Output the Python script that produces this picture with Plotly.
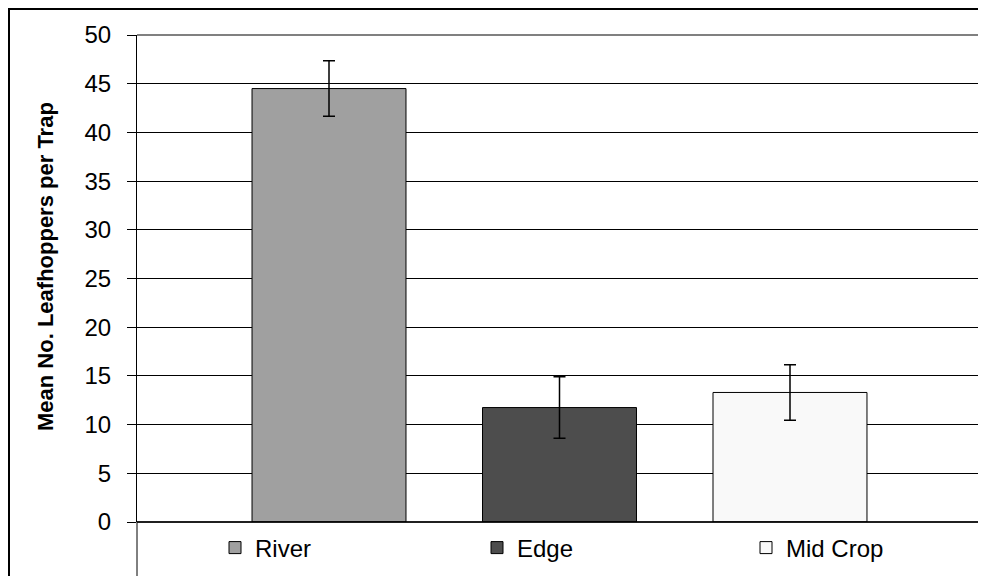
import plotly.graph_objects as go

categories = ["River", "Edge", "Mid Crop"]
means = [44.5, 11.75, 13.3]
errors = [2.85, 3.15, 2.85]
colors = ["#A0A0A0", "#4D4D4D", "#F9F9F9"]
y_ticks = list(range(0, 51, 5))

# page has an 8px body margin, so the figure is slightly smaller and offset
W, H = 978, 568
L, R, T, B = 129, 4, 27, 54
PW, PH = W - L - R, H - T - B
legend_x_px = [207, 469, 738]
legend_names = ["legend", "legend2", "legend3"]

fig = go.Figure()
for i, (name, m, e, c) in enumerate(zip(categories, means, errors, colors)):
    fig.add_trace(go.Bar(
        x=[i], y=[m], name=name, width=0.668, legend=legend_names[i],
        marker=dict(color=c, line=dict(color="black", width=1)),
        error_y=dict(type="data", array=[e], visible=True, color="black", thickness=1.5, width=6),
    ))

legend_common = dict(orientation="h", xanchor="left", y=(514 - 540) / PH, yanchor="middle",
                     font=dict(size=24), bgcolor="rgba(0,0,0,0)", itemclick=False,
                     itemdoubleclick=False)
layout_legends = {ln: dict(x=(lx - L) / PW, **legend_common) for ln, lx in zip(legend_names, legend_x_px)}

fig.update_layout(
    width=W, height=H,
    margin=dict(l=L, r=R, t=T, b=B, autoexpand=False),
    paper_bgcolor="white", plot_bgcolor="white",
    barmode="overlay",
    font=dict(family="Liberation Sans, Arial, sans-serif", color="black"),
    showlegend=True,
    xaxis=dict(range=[-0.833, 2.833], showticklabels=False, ticks="", showgrid=False,
               zeroline=False, showline=False),
    yaxis=dict(range=[0, 50], tickvals=y_ticks, ticks="outside", ticklen=9, tickcolor="black",
               tickwidth=1, showgrid=True, gridcolor="black", gridwidth=1, zeroline=False,
               showline=True, linecolor="black", linewidth=1, tickfont=dict(size=24),
               ticklabelstandoff=11),
    **layout_legends,
)

# y title
fig.add_annotation(text="<b>Mean No. Leafhoppers per Trap</b>", xref="paper", yref="paper",
                   x=(37 - L) / PW, y=(514 - 259) / PH, textangle=-90, showarrow=False,
                   font=dict(size=22), xanchor="center", yanchor="middle")

# plot-area border top/right (grey)
fig.add_shape(type="line", xref="paper", yref="paper", x0=0, x1=1, y0=1, y1=1,
              line=dict(color="#808080", width=2), layer="above")
fig.add_shape(type="line", xref="paper", yref="paper", x0=1, x1=1, y0=0, y1=1,
              line=dict(color="#808080", width=2), layer="above")
# x-axis line
fig.add_shape(type="line", xref="paper", yref="paper", x0=0, x1=1, y0=0, y1=0,
              line=dict(color="black", width=1.5), layer="above")
# legend box below plot
fig.add_shape(type="rect", xref="paper", yref="paper", x0=0, x1=0.9988, y0=0, y1=-0.2,
              line=dict(color="black", width=1), layer="above")
# outer chart frame
px = lambda v: (v - L) / PW
py = lambda v: (H - B - v) / PH
fig.add_shape(type="rect", xref="paper", yref="paper", x0=px(1), x1=px(1000), y0=py(1), y1=py(600),
              line=dict(color="black", width=2), layer="above")

fig.write_html("out.html")
